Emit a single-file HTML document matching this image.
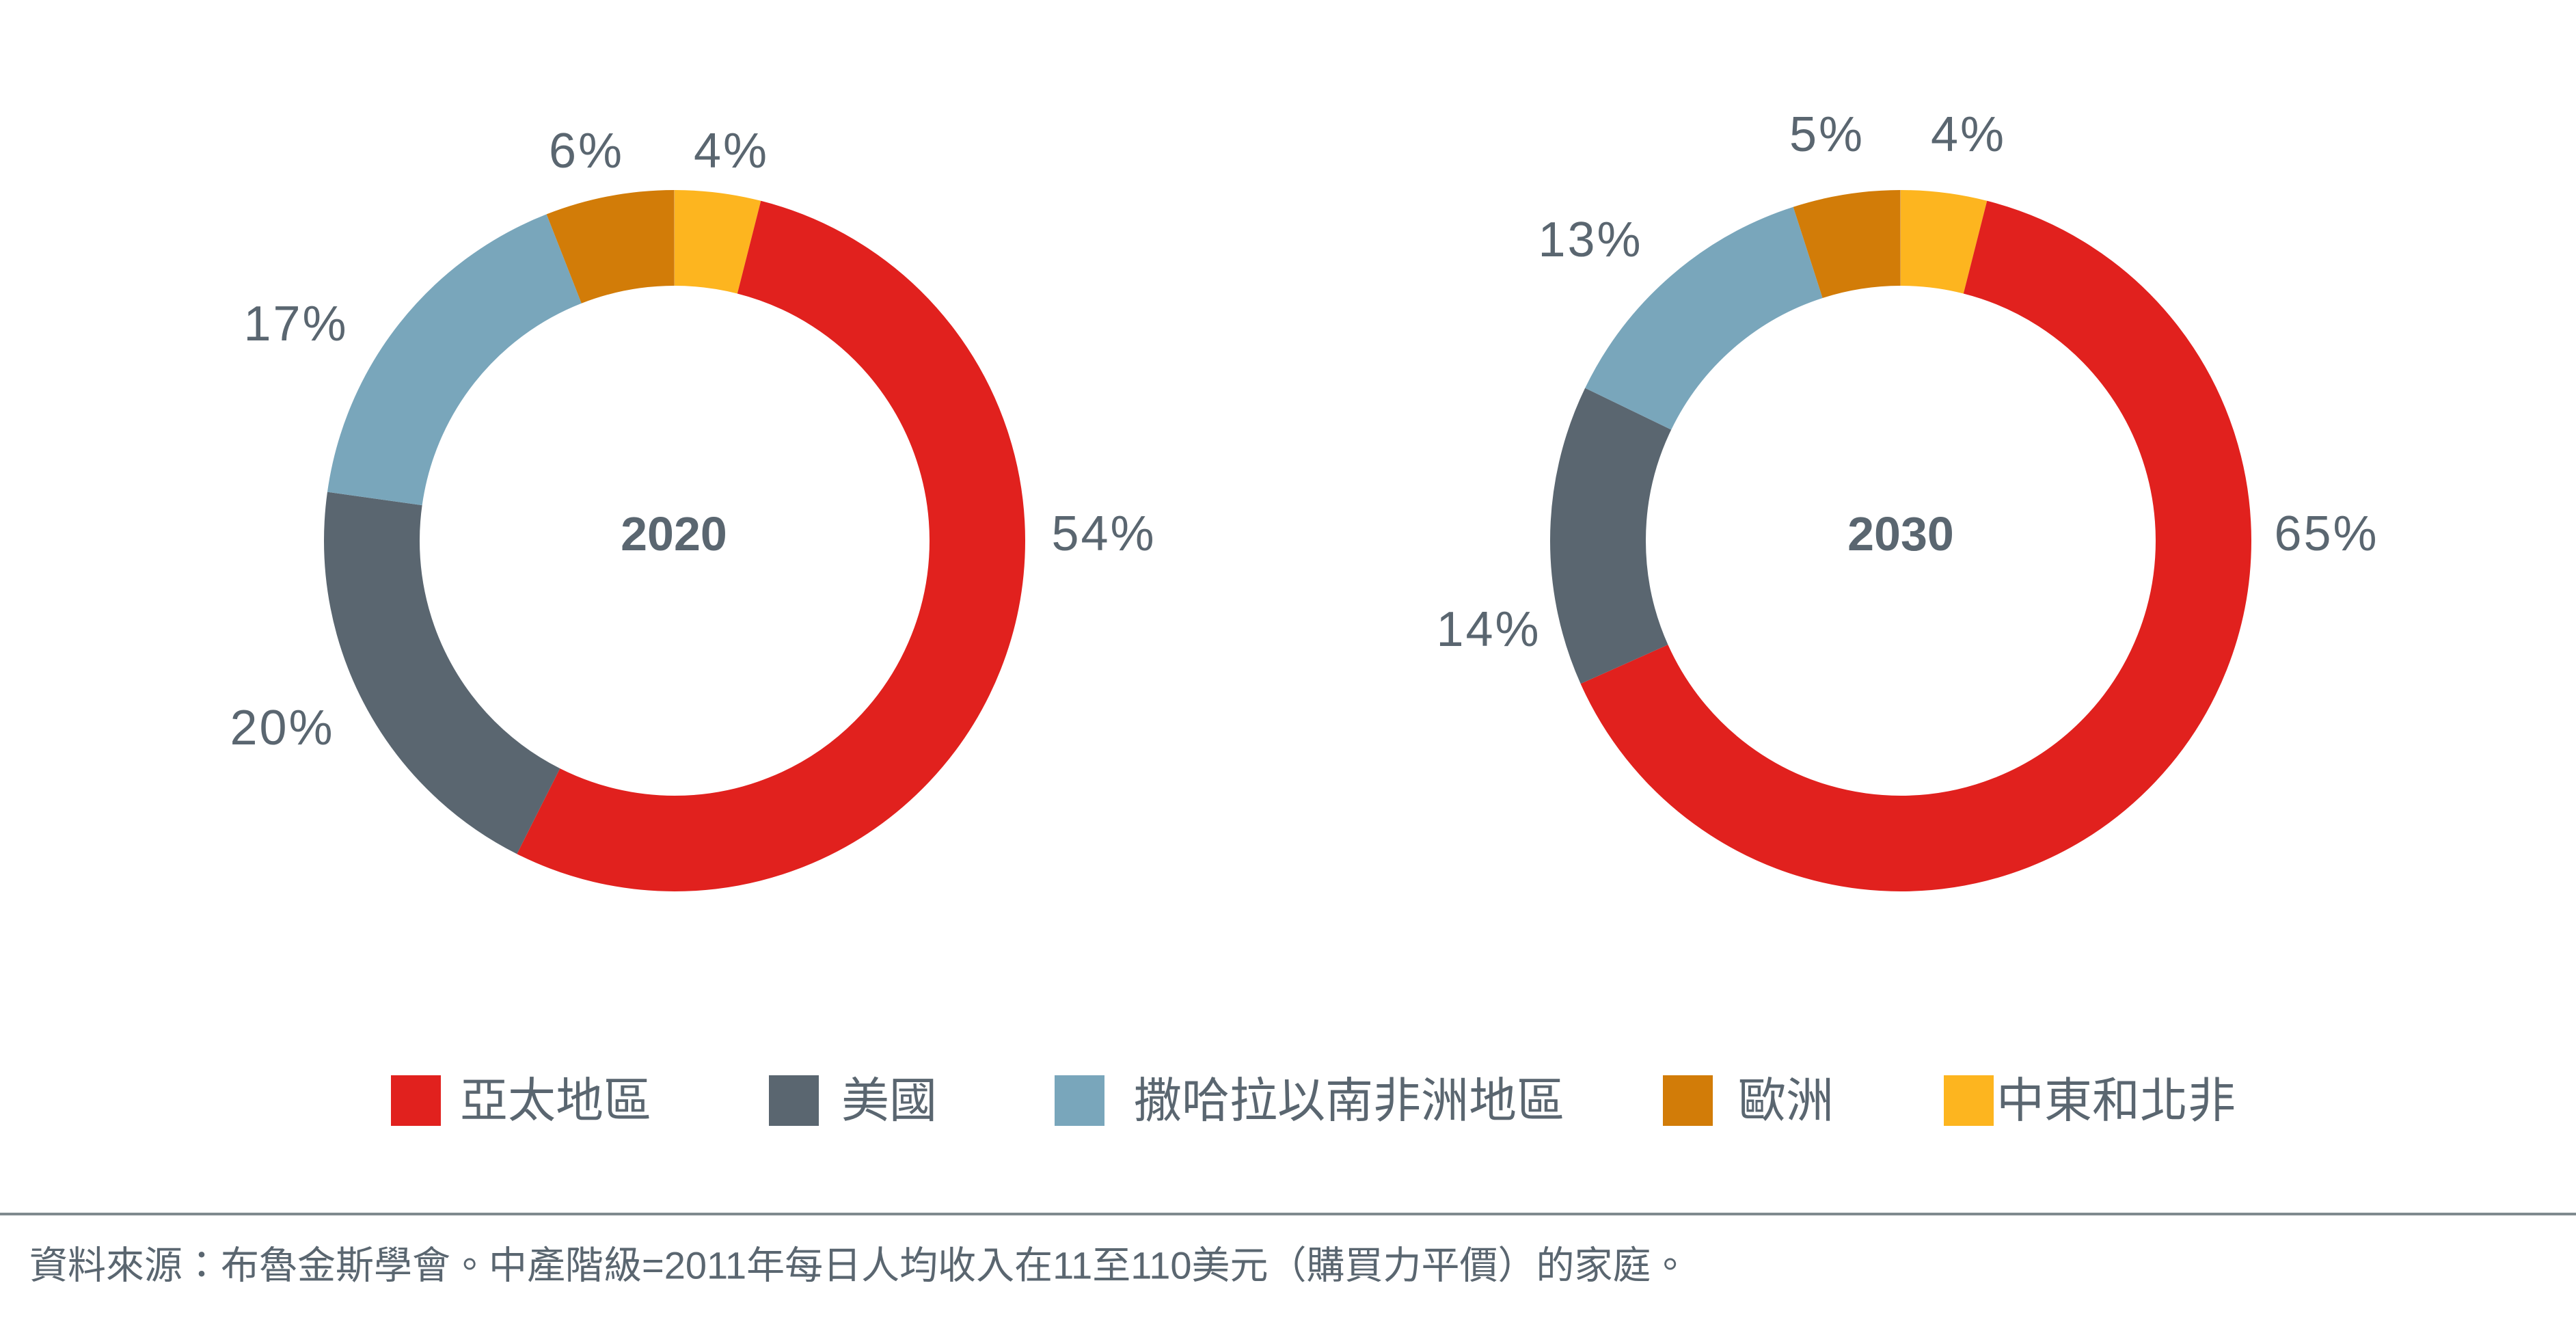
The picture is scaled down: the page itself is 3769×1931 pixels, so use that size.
<!DOCTYPE html>
<html><head><meta charset="utf-8"><style>
html,body{margin:0;padding:0;background:#fff;}
svg{display:block;}
text{font-family:"Liberation Sans","Noto Sans CJK TC",sans-serif;fill:#5a6670;}
</style></head><body>
<svg width="3769" height="1931" viewBox="0 0 3769 1931" xmlns="http://www.w3.org/2000/svg">
<rect width="3769" height="1931" fill="#fff"/>
<g transform="rotate(-90 987 791)" fill="none" stroke-width="140">
<circle cx="987" cy="791" r="443" pathLength="100" stroke="#fdb51f" stroke-dasharray="3.96 200" stroke-dashoffset="0"/>
<circle cx="987" cy="791" r="443" pathLength="100" stroke="#e1211e" stroke-dasharray="53.47 200" stroke-dashoffset="-3.96"/>
<circle cx="987" cy="791" r="443" pathLength="100" stroke="#5a6670" stroke-dasharray="19.8 200" stroke-dashoffset="-57.43"/>
<circle cx="987" cy="791" r="443" pathLength="100" stroke="#79a6bb" stroke-dasharray="16.83 200" stroke-dashoffset="-77.23"/>
<circle cx="987" cy="791" r="443" pathLength="100" stroke="#d27c08" stroke-dasharray="5.94 200" stroke-dashoffset="-94.06"/>
</g>
<g transform="rotate(-90 2781 791)" fill="none" stroke-width="140">
<circle cx="2781" cy="791" r="443" pathLength="100" stroke="#fdb51f" stroke-dasharray="3.96 200" stroke-dashoffset="0"/>
<circle cx="2781" cy="791" r="443" pathLength="100" stroke="#e1211e" stroke-dasharray="64.36 200" stroke-dashoffset="-3.96"/>
<circle cx="2781" cy="791" r="443" pathLength="100" stroke="#5a6670" stroke-dasharray="13.86 200" stroke-dashoffset="-68.32"/>
<circle cx="2781" cy="791" r="443" pathLength="100" stroke="#79a6bb" stroke-dasharray="12.87 200" stroke-dashoffset="-82.18"/>
<circle cx="2781" cy="791" r="443" pathLength="100" stroke="#d27c08" stroke-dasharray="4.95 200" stroke-dashoffset="-95.05"/>
</g>
<g font-size="72" text-anchor="middle" dominant-baseline="central" letter-spacing="3">
<text x="858" y="221">6%</text><text x="1070" y="221">4%</text>
<text x="433" y="474">17%</text><text x="1615" y="781">54%</text>
<text x="413" y="1065">20%</text>
<text x="2673" y="197">5%</text><text x="2880" y="197">4%</text>
<text x="2327" y="351">13%</text><text x="3404" y="781">65%</text>
<text x="2178" y="921">14%</text>
<text x="986" y="781" font-weight="bold" letter-spacing="0" font-size="70">2020</text>
<text x="2781" y="781" font-weight="bold" letter-spacing="0" font-size="70">2030</text>
</g>
<rect x="572" y="1573" width="73" height="74" fill="#e1211e"/>
<rect x="1125" y="1573" width="73" height="74" fill="#5a6670"/>
<rect x="1543" y="1573" width="73" height="74" fill="#79a6bb"/>
<rect x="2433" y="1573" width="73" height="74" fill="#d27c08"/>
<rect x="2844" y="1573" width="73" height="74" fill="#fdb51f"/>
<g font-size="70" dominant-baseline="central">
<text x="673" y="1610">亞太地區</text>
<text x="1231" y="1610">美國</text>
<text x="1659" y="1610">撒哈拉以南非洲地區</text>
<text x="2543" y="1610">歐洲</text>
<text x="2921" y="1610">中東和北非</text>
</g>
<rect x="0" y="1774" width="3769" height="4" fill="#7f8a8f"/>
<text x="43" y="1851" font-size="56" dominant-baseline="central">資料來源：布魯金斯學會。中產階級=2011年每日人均收入在11至110美元（購買力平價）的家庭。</text>
</svg>
</body></html>
